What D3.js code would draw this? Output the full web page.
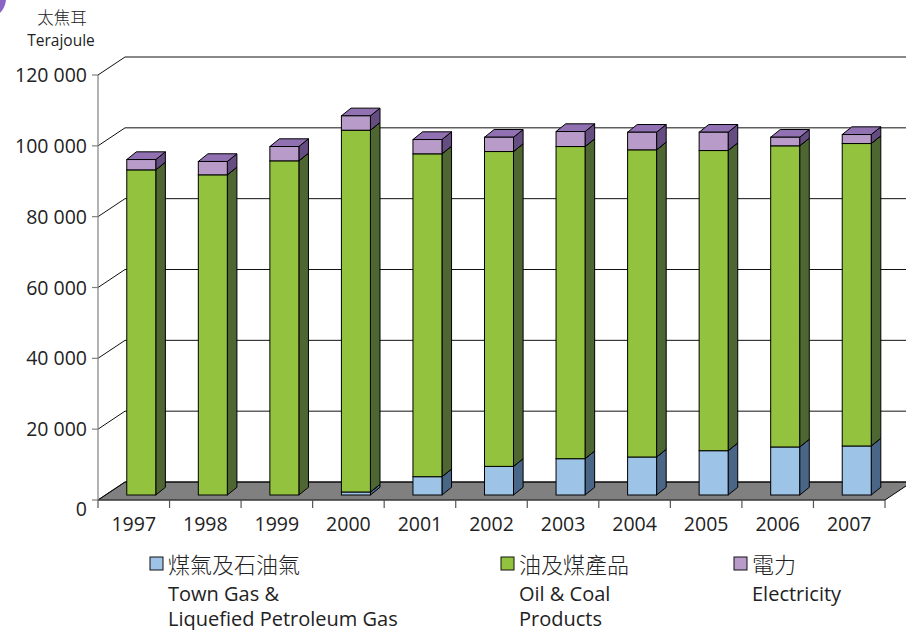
<!DOCTYPE html>
<html><head><meta charset="utf-8">
<script src="https://cdn.jsdelivr.net/npm/d3@7"></script>
<style>body{margin:0;background:#fff}svg{display:block}</style>
</head><body><svg id="c" width="906" height="630"></svg>
<script>
const years = ["1997","1998","1999","2000","2001","2002","2003","2004","2005","2006","2007"];
const gasLpg = [0, 0, 0, 850, 5170, 8080, 10250, 10730, 12510, 13560, 13840];
const oilCoal = [91800, 90400, 94350, 102150, 91160, 88900, 88140, 86730, 84750, 85030, 85400];
const electricity = [2920, 3770, 4050, 4060, 4040, 4040, 4240, 4970, 5170, 2430, 2540];
const yTicks = [0, 20000, 40000, 60000, 80000, 100000, 120000];
const yTickLabels = ["0", "20 000", "40 000", "60 000", "80 000", "100 000", "120 000"];
const seriesZh = ["煤氣及石油氣", "油及煤產品", "電力"];
const seriesEn = [["Town Gas &", "Liquefied Petroleum Gas"], ["Oil & Coal", "Products"], ["Electricity"]];
const unitZh = "太焦耳";
const unitEn = "Terajoule";

const colors = [
  {front:"#9dc3e6", side:"#4a6686", top:"#7fa6cc"},
  {front:"#93c23e", side:"#4e6631", top:"#7aa333"},
  {front:"#b89bc9", side:"#654d82", top:"#9171b2"}
];
const latin = "'Open Sans', 'Noto Sans', sans-serif";
const cjk = "'Noto Sans CJK TC', 'Noto Sans CJK SC', sans-serif";

const svg = d3.select("#c");
const x = d3.scaleBand().domain(years).range([98, 885]);
const y = d3.scaleLinear().domain([0, 120000]).range([500, 75]);
const FD = {x: 27, y: -18};      // wall/floor depth
const OFF = {x: 7.5, y: -5};     // bar offset into depth
const BD = {x: 9.6, y: -7.7};    // bar depth
const barW = 29;

// tiny decoration at top-left
svg.append("path").attr("d", "M0,13 Q5,8 6,0 L0,0 Z").attr("fill", "#8a63c4");

// floor
const f0 = y(0);
svg.append("polygon")
  .attr("points", [[98, f0], [885, f0], [885 + FD.x, f0 + FD.y], [98 + FD.x, f0 + FD.y]].map(p => p.join(",")).join(" "))
  .attr("fill", "#808080").attr("stroke", "#000").attr("stroke-width", 1);

// back gridlines + diagonals
yTicks.forEach(t => {
  const yy = y(t);
  svg.append("path")
    .attr("d", `M98,${yy}L${98 + FD.x},${yy + FD.y}L${930},${yy + FD.y}`)
    .attr("fill", "none").attr("stroke", "#111").attr("stroke-width", 1);
});

// front y axis
svg.append("line").attr("x1", 98).attr("x2", 98).attr("y1", y(120000)).attr("y2", y(0))
  .attr("stroke", "#808080").attr("stroke-width", 1.2);
yTicks.forEach((t, i) => {
  svg.append("line").attr("x1", 92).attr("x2", 98).attr("y1", y(t)).attr("y2", y(t))
    .attr("stroke", "#808080").attr("stroke-width", 1.2);
  svg.append("text").attr("x", 87).attr("y", y(t) + (t === 0 ? 9 : 0))
    .attr("dy", "0.36em").attr("text-anchor", "end")
    .attr("font-family", latin).attr("font-size", 19.5).attr("fill", "#222")
    .text(yTickLabels[i]);
});

// x axis
svg.append("line").attr("x1", 98).attr("x2", 885).attr("y1", f0).attr("y2", f0)
  .attr("stroke", "#555").attr("stroke-width", 1.2);
const bounds = years.map(yr => x(yr)).concat([885]);
bounds.forEach(bx => {
  svg.append("line").attr("x1", bx).attr("x2", bx).attr("y1", f0).attr("y2", f0 + 8)
    .attr("stroke", "#555").attr("stroke-width", 1.2);
});
years.forEach(yr => {
  svg.append("text").attr("x", x(yr) + x.bandwidth() / 2).attr("y", 531)
    .attr("text-anchor", "middle").attr("font-family", latin).attr("font-size", 19.5).attr("fill", "#222")
    .text(yr);
});

// bars
const rows = years.map((yr, i) => ({year: yr, gas: gasLpg[i], oil: oilCoal[i], elec: electricity[i]}));
const keys = ["gas", "oil", "elec"];
const stacked = d3.stack().keys(keys)(rows);
const g = svg.append("g");
rows.forEach((r, i) => {
  const x0 = x(r.year) + x.bandwidth() / 2 + OFF.x - barW / 2;
  const x1 = x0 + barW;
  keys.forEach((k, si) => {
    const seg = stacked[si][i];
    if (seg[1] - seg[0] <= 0) return;
    const yb = y(seg[0]) + OFF.y, yt = y(seg[1]) + OFF.y;
    const c = colors[si];
    g.append("polygon")
      .attr("points", [[x1, yt], [x1 + BD.x, yt + BD.y], [x1 + BD.x, yb + BD.y], [x1, yb]].map(p => p.join(",")).join(" "))
      .attr("fill", c.side).attr("stroke", "#000").attr("stroke-width", 1).attr("stroke-linejoin", "round");
    g.append("polygon")
      .attr("points", [[x0, yt], [x0 + BD.x, yt + BD.y], [x1 + BD.x, yt + BD.y], [x1, yt]].map(p => p.join(",")).join(" "))
      .attr("fill", c.top).attr("stroke", "#000").attr("stroke-width", 1).attr("stroke-linejoin", "round");
    g.append("rect").attr("x", x0).attr("y", yt).attr("width", barW).attr("height", yb - yt)
      .attr("fill", c.front).attr("stroke", "#000").attr("stroke-width", 1);
  });
});

// unit label
svg.append("text").attr("x", 62).attr("y", 24).attr("text-anchor", "middle")
  .attr("font-family", cjk).attr("font-size", 16.5).attr("font-weight", 300).attr("fill", "#222").text(unitZh);
svg.append("text").attr("x", 61).attr("y", 46).attr("text-anchor", "middle")
  .attr("font-family", latin).attr("font-size", 15.5).attr("fill", "#222").text(unitEn);

// legend
const legX = [150, 501, 734];
seriesZh.forEach((zh, i) => {
  const lx = legX[i];
  svg.append("rect").attr("x", lx).attr("y", 557).attr("width", 13).attr("height", 13)
    .attr("fill", colors[i].front).attr("stroke", "#111").attr("stroke-width", 1);
  svg.append("text").attr("x", lx + 18).attr("y", 573)
    .attr("font-family", cjk).attr("font-size", 22).attr("font-weight", 300).attr("fill", "#222").text(zh);
  seriesEn[i].forEach((t, j) => {
    svg.append("text").attr("x", lx + 18).attr("y", 601 + j * 24.5)
      .attr("font-family", latin).attr("font-size", 20).attr("fill", "#222").text(t);
  });
});
</script></body></html>
